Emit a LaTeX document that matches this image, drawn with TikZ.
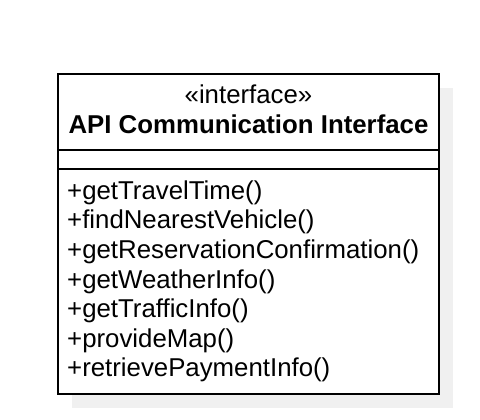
\documentclass[tikz,border=0pt]{standalone}
\usepackage{fontspec}
\setmainfont{Liberation Sans}
\usetikzlibrary{positioning}

\begin{document}
\begin{tikzpicture}[x=1pt,y=1pt,
  compbox/.style={draw,line width=1.6pt,minimum width=381pt,inner sep=0pt,outer sep=0pt,fill=white},
  umltxt/.style={font=\fontsize{25.8}{30}\selectfont,inner sep=0pt}]
  \useasboundingbox (0,0) rectangle (480,-420);
  % shadow of the class box
  \fill[black!6] (72,-88) rectangle (453,-408);

  \node[compbox,minimum height=76pt,anchor=north west] (head) at (58,-74) {};
  \node[compbox,minimum height=19pt,below=0pt of head] (attrs) {};
  \node[compbox,minimum height=225pt,below=0pt of attrs] (ops) {};

  \node[umltxt,anchor=base] (stereo) at (248.5,-103) {«interface»};
  \node[umltxt,anchor=base,font=\fontsize{25.8}{30}\selectfont\bfseries] (title) at (248.5,-134)
    {API Communication Interface};

  \foreach \m [count=\i] in {getTravelTime,findNearestVehicle,getReservationConfirmation,
      getWeatherInfo,getTrafficInfo,provideMap,retrievePaymentInfo}
    \node[umltxt,anchor=base west] (op\i) at (67,{-199.5-29.5*(\i-1)}) {+\m()};
\end{tikzpicture}
\end{document}
